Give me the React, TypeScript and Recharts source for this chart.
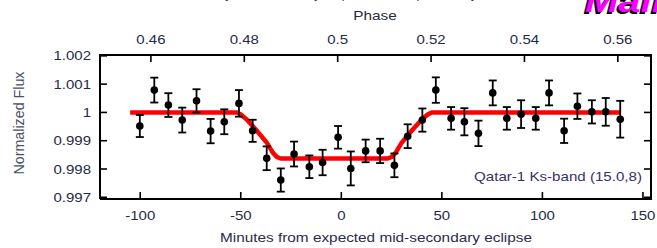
import React from 'react';
import { ComposedChart, Line, Scatter, XAxis, YAxis, ErrorBar } from 'recharts';

const minutes = [-100.2, -93, -86, -79.1, -72, -65, -58.2, -50.9, -44.1, -37.1, -30.1, -23.5, -15.9, -9.3, -1.6, 4.7, 12.1, 19.3, 26.4, 33, 40.3, 47, 54.6, 61.2, 68.2, 75.3, 82.3, 89.4, 96.7, 103.3, 110.8, 117.4, 124.6, 131.5, 138.7];
const flux = [0.99952, 1.00079, 1.00026, 0.99973, 1.00041, 0.99934, 0.99967, 1.00032, 0.99935, 0.99838, 0.99761, 0.99853, 0.99808, 0.99823, 0.99912, 0.99802, 0.99864, 0.99864, 0.99813, 0.99916, 0.99973, 1.00079, 0.99979, 0.99967, 0.99926, 1.00069, 0.99979, 0.99994, 0.99979, 1.00069, 0.99935, 1.00022, 1.00002, 1.00002, 0.99976];
const fluxErr = [0.00039, 0.00044, 0.00042, 0.00044, 0.00041, 0.00043, 0.00044, 0.00047, 0.00039, 0.00042, 0.00041, 0.00044, 0.0004, 0.00045, 0.0004, 0.0006, 0.0004, 0.00043, 0.00042, 0.00042, 0.00041, 0.00045, 0.0004, 0.00048, 0.00045, 0.00044, 0.0004, 0.00049, 0.0004, 0.00044, 0.00043, 0.00045, 0.00041, 0.00049, 0.00065];

const modelMinutes = [-105, -52, -50, -47, -42, -37, -34, -32, -30, 23, 25, 27, 30, 35, 40, 43, 45, 139];
const modelFlux = [1.0, 1.0, 0.99993, 0.99975, 0.99935, 0.99893, 0.99857, 0.99842, 0.99837, 0.99837, 0.99842, 0.99857, 0.99893, 0.99935, 0.99975, 0.99993, 1.0, 1.0];

const xTicks = [-100, -50, 0, 50, 100, 150];
const xTickLabels = ['-100', '-50', '0', '50', '100', '150'];
const phaseTicks = [0.46, 0.48, 0.5, 0.52, 0.54, 0.56];
const phaseTickLabels = ['0.46', '0.48', '0.5', '0.52', '0.54', '0.56'];
const yTicks = [0.997, 0.998, 0.999, 1.0, 1.001, 1.002];
const yTickLabels = ['0.997', '0.998', '0.999', '1', '1.001', '1.002'];

const xDomain = [-120, 154];
const phaseDomain = [0.4491, 0.5671];
const yDomain = [0.99694, 1.00203];

const points = minutes.map((m, i) => ({ x: m, y: flux[i], err: fluxErr[i] }));
const model = modelMinutes.map((m, i) => ({ x: m, y: modelFlux[i] }));
// invisible helper so the top and right axes get registered and drawn
const frameHelper = phaseTicks.map((p, i) => ({ x: p, y: yTicks[i] }));

const FONT = 'Liberation Sans, Arial, Helvetica, sans-serif';
const TICK_COLOR = '#1f2a48';
const SX = 1.2;

// plot box (layout constants)
const PLOT = { left: 100, top: 55, right: 651, bottom: 199 };
const TICK_LEN = 7;

const BottomTick = (p: any) => (
  <text transform={`translate(${p.x},220) scale(${SX},1)`} textAnchor="middle" fontSize={12.5} fontFamily={FONT} fill={TICK_COLOR}>
    {xTickLabels[p.index]}
  </text>
);
const TopTick = (p: any) => (
  <g>
    <rect x={p.x - 0.8} y={PLOT.top} width={1.6} height={TICK_LEN} fill="#000" />
    <text transform={`translate(${p.x},44) scale(${SX},1)`} textAnchor="middle" fontSize={12.5} fontFamily={FONT} fill={TICK_COLOR}>
      {phaseTickLabels[p.index]}
    </text>
  </g>
);
const LeftTick = (p: any) => (
  <text transform={`translate(91,${p.y + 4.5}) scale(${SX},1)`} textAnchor="end" fontSize={12.5} fontFamily={FONT} fill={TICK_COLOR}>
    {yTickLabels[p.index]}
  </text>
);
const RightTick = (p: any) => (
  <rect x={PLOT.right - TICK_LEN} y={p.y - 0.8} width={TICK_LEN} height={1.6} fill="#000" />
);

const Dot = (p: any) => <circle cx={p.cx} cy={p.cy} r={3.8} fill="#000" />;
const NoShape = () => <g />;

export default function App() {
  return (
    <div style={{ position: 'absolute', left: 0, top: 0, width: 657, height: 248, background: '#fff' }}>
      <ComposedChart width={657} height={248} margin={{ top: 0, right: 0, bottom: 0, left: 0 }}>
        <XAxis xAxisId={0} dataKey="x" type="number" domain={xDomain} allowDataOverflow ticks={xTicks} interval={0}
          orientation="bottom" height={49} tickSize={-7} tick={BottomTick}
          axisLine={{ stroke: '#000', strokeWidth: 2 }} tickLine={{ stroke: '#000', strokeWidth: 1.6 }} />
        <XAxis xAxisId="top" dataKey="x" type="number" domain={phaseDomain} allowDataOverflow ticks={phaseTicks} interval={0}
          orientation="top" height={55} tickSize={-7} tick={TopTick}
          axisLine={{ stroke: '#000', strokeWidth: 2 }} tickLine={false} />
        <YAxis yAxisId={0} dataKey="y" type="number" domain={yDomain} allowDataOverflow ticks={yTicks} interval={0}
          orientation="left" width={100} tickSize={-7} tick={LeftTick}
          axisLine={{ stroke: '#000', strokeWidth: 2 }} tickLine={{ stroke: '#000', strokeWidth: 1.6 }} />
        <YAxis yAxisId="right" dataKey="y" type="number" domain={yDomain} allowDataOverflow ticks={yTicks} interval={0}
          orientation="right" width={6} tickSize={-7} tick={RightTick}
          axisLine={{ stroke: '#000', strokeWidth: 2 }} tickLine={false} />
        <Scatter data={frameHelper} dataKey="y" xAxisId="top" yAxisId="right" shape={NoShape} isAnimationActive={false} />
        <Line data={model} dataKey="y" xAxisId={0} yAxisId={0} type="linear" stroke="#ff0000" strokeWidth={4.5}
          dot={false} activeDot={false} isAnimationActive={false} />
        <Scatter data={points} dataKey="y" xAxisId={0} yAxisId={0} shape={Dot} isAnimationActive={false}>
          <ErrorBar dataKey="err" direction="y" width={4} stroke="#000" strokeWidth={1.8} isAnimationActive={false} />
        </Scatter>
        <g>
          <rect x={PLOT.left - 1} y={PLOT.top - 1} width={PLOT.right - PLOT.left + 2} height={2} fill="#000" />
          <rect x={PLOT.right - 1} y={PLOT.top - 1} width={2} height={PLOT.bottom - PLOT.top + 2} fill="#000" />
          <text x={220} y={-2} textLength={257} lengthAdjust="spacingAndGlyphs" fontSize={13} fontFamily={FONT} fill="#333">
            Qatar-1 secondary eclipse: Ks-band photometry
          </text>
          <text transform={`translate(375,20) scale(${SX},1)`} textAnchor="middle" fontSize={12.8} fontFamily={FONT} fill="#2a2a3a">
            Phase
          </text>
          <text x={220} y={242} textLength={312} lengthAdjust="spacingAndGlyphs" fontSize={12.8} fontFamily={FONT} fill="#2c2a50">
            Minutes from expected mid-secondary eclipse
          </text>
          <text transform={`translate(24,123) scale(${SX},1) rotate(-90)`} textAnchor="middle" textLength={103} lengthAdjust="spacingAndGlyphs"
            fontSize={12} fontFamily={FONT} fill="#4a5068">
            Normalized Flux
          </text>
          <text transform={`translate(642,181) scale(${SX},1)`} textAnchor="end" fontSize={12.6} fontFamily={FONT} fill="#35326a">
            Qatar-1 Ks-band (15.0,8)
          </text>
          <text transform={`translate(583,13.5) scale(1.25,1)`} fontSize={32} fontWeight="bold" fontStyle="italic" fontFamily={FONT} fill="#000">
            Main
          </text>
          <text transform={`translate(585,12) scale(1.25,1)`} fontSize={32} fontWeight="bold" fontStyle="italic" fontFamily={FONT} fill="#ff00ff">
            Main
          </text>
        </g>
      </ComposedChart>
    </div>
  );
}
